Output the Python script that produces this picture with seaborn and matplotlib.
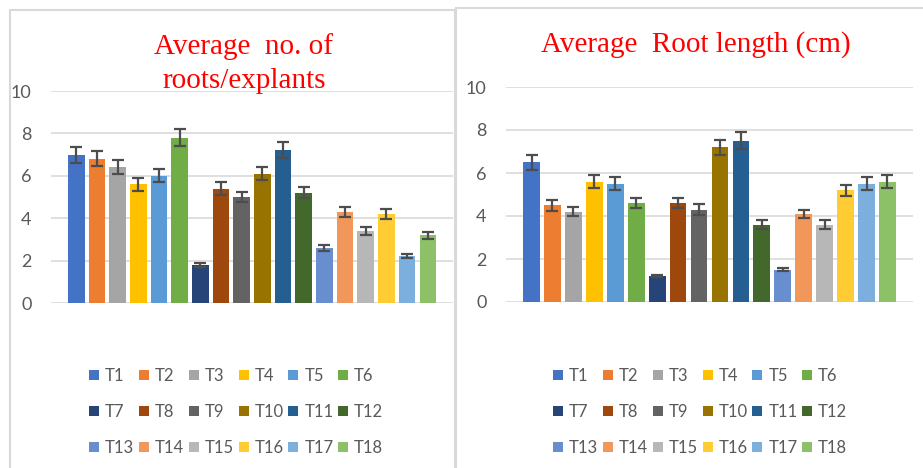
import numpy as np
import pandas as pd
import matplotlib
matplotlib.use('Agg')
import matplotlib.pyplot as plt
from matplotlib.patches import Rectangle
import seaborn as sns

treatments = [f'T{i}' for i in range(1, 19)]

roots_mean = [7.0, 6.8, 6.4, 5.6, 6.0, 7.8, 1.8, 5.4, 5.0, 6.1, 7.2, 5.2, 2.6, 4.3, 3.4, 4.2, 2.2, 3.2]
roots_err = [0.38, 0.35, 0.33, 0.3, 0.3, 0.4, 0.1, 0.3, 0.25, 0.3, 0.38, 0.25, 0.15, 0.25, 0.2, 0.25, 0.1, 0.17]

length_mean = [6.5, 4.5, 4.2, 5.6, 5.5, 4.6, 1.2, 4.6, 4.3, 7.2, 7.5, 3.6, 1.5, 4.1, 3.6, 5.2, 5.5, 5.6]
length_err = [0.35, 0.25, 0.2, 0.3, 0.3, 0.25, 0.05, 0.25, 0.25, 0.35, 0.4, 0.2, 0.08, 0.2, 0.2, 0.25, 0.3, 0.3]

colors = ['#4472C4', '#ED7D31', '#A5A5A5', '#FFC000', '#5B9BD5', '#70AD47',
          '#264478', '#9E480E', '#636363', '#997300', '#255E91', '#43682B',
          '#698ED0', '#F1975A', '#B7B7B7', '#FFCD33', '#7CAFDD', '#8CC168']

sns.set_style('white')
plt.rcParams['font.family'] = ['Lato', 'DejaVu Sans']

W, H = 923, 468
fig = plt.figure(figsize=(W / 100, H / 100), dpi=100)


def px_axes(x0, y0, x1, y1):
    # pixel box (top-left origin) -> figure axes
    return fig.add_axes([x0 / W, 1 - y1 / H, (x1 - x0) / W, (y1 - y0) / H])


def draw_panel(ax, means, errs, title, title_xy, legend_xy):
    df = pd.DataFrame({'treatment': treatments, 'value': means})
    sns.barplot(data=df, x='treatment', y='value', hue='treatment',
                palette=colors, saturation=1, width=0.8, linewidth=0,
                legend=True, ax=ax)
    ax.errorbar(np.arange(len(means)), means, yerr=errs, fmt='none',
                ecolor='#4d4d4d', elinewidth=1.6, capsize=4, capthick=1.6, zorder=5)
    ax.set_ylim(0, 10)
    ax.set_xlim(-1.22, 18.22)
    ax.set_yticks(range(0, 11, 2))
    ax.yaxis.grid(True, color='#d9d9d9', linewidth=1.2)
    ax.set_axisbelow(True)
    ax.set_xticks([])
    ax.set_xlabel('')
    ax.set_ylabel('')
    for s in ax.spines.values():
        s.set_visible(False)
    ax.tick_params(axis='y', length=0, labelsize=13, labelcolor='#595959', pad=14)

    leg = ax.get_legend()
    handles = leg.legend_handles
    labels = [t.get_text() for t in leg.get_texts()]
    leg.remove()
    # matplotlib fills legend columns first; reorder so rows read T1..T6, T7..T12, ...
    order = [r * 6 + c for c in range(6) for r in range(3)]
    fig.legend([handles[i] for i in order], [labels[i] for i in order],
               loc='center', bbox_to_anchor=legend_xy, ncol=6,
               frameon=False, fontsize=12, labelcolor='#595959',
               handlelength=0.6, handleheight=0.6, handletextpad=0.35,
               columnspacing=0.3, labelspacing=1.2)

    fig.text(title_xy[0], title_xy[1], title, ha='center', va='center',
             color='#ff0000', fontsize=21, family='Liberation Serif',
             linespacing=1.4)


# panel frames
fig.patches.append(Rectangle((10 / W, -0.1), 445 / W, 1.1 - 10 / H, transform=fig.transFigure,
                             fill=False, edgecolor='#d9d9d9', linewidth=1.5))
fig.patches.append(Rectangle((456 / W, -0.1), 0.6, 1.1 - 8 / H, transform=fig.transFigure,
                             fill=False, edgecolor='#d9d9d9', linewidth=1.5))

ax1 = px_axes(51, 91, 453, 303)
draw_panel(ax1, roots_mean, roots_err, 'Average  no. of\nroots/explants',
           (244 / W, 1 - 64 / H), (236 / W, 1 - 412 / H))

ax2 = px_axes(506, 87, 913, 302)
draw_panel(ax2, length_mean, length_err, 'Average  Root length (cm)',
           (696 / W, 1 - 45 / H), (700 / W, 1 - 412 / H))

fig.savefig('out.png', dpi=100)
